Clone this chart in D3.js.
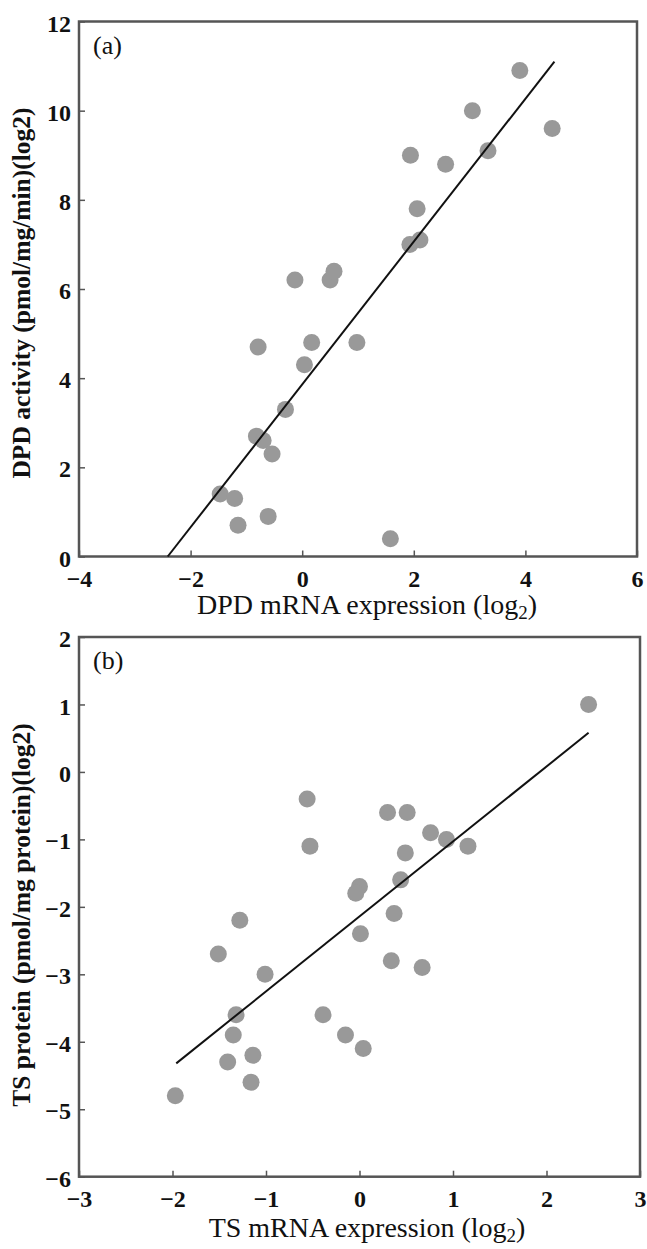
<!DOCTYPE html>
<html>
<head>
<meta charset="utf-8">
<script src="https://cdn.jsdelivr.net/npm/d3@7"></script>
<style>
  body { margin: 0; background: #fff; }
  svg { display: block; }
  text { font-family: "Liberation Serif", "Times New Roman", serif; fill: #111; }
</style>
</head>
<body>
<svg id="chart" width="647" height="1249"></svg>
<script>
// panel (a) : DPD
const dpdMrna     = [3.90, 3.05, 4.48, 1.94, 2.57, 3.33, 2.06, 1.93, 2.11, -0.13, 0.50, 0.57,
                     -0.79, 0.17, 0.98, 0.04, -0.30, -0.82, -0.70, -0.54, -1.47, -1.21, -0.61, -1.15, 1.58];
const dpdActivity = [10.9, 10.0, 9.6, 9.0, 8.8, 9.1, 7.8, 7.0, 7.1, 6.2, 6.2, 6.4,
                     4.7, 4.8, 4.8, 4.3, 3.3, 2.7, 2.6, 2.3, 1.4, 1.3, 0.9, 0.7, 0.4];
const dpdFitX = [-2.41, 4.52];
const dpdFitY = [0, 11.1];
const dpdXTicks = [-4, -2, 0, 2, 4, 6];
const dpdYTicks = [0, 2, 4, 6, 8, 10, 12];

// panel (b) : TS
const tsMrna    = [2.45, -0.56, -0.53, 0.30, 0.51, 0.76, 0.93, 1.16, 0.49, 0.44, 0.00, -0.04,
                   0.37, -1.28, 0.01, -1.51, 0.34, 0.67, -1.01, -1.32, -0.39, -1.35, -0.15, 0.04,
                   -1.14, -1.41, -1.16, -1.97];
const tsProtein = [1.0, -0.4, -1.1, -0.6, -0.6, -0.9, -1.0, -1.1, -1.2, -1.6, -1.7, -1.8,
                   -2.1, -2.2, -2.4, -2.7, -2.8, -2.9, -3.0, -3.6, -3.6, -3.9, -3.9, -4.1,
                   -4.2, -4.3, -4.6, -4.8];
const tsFitX = [-1.96, 2.45];
const tsFitY = [-4.32, 0.58];
const tsXTicks = [-3, -2, -1, 0, 1, 2, 3];
const tsYTicks = [-6, -5, -4, -3, -2, -1, 0, 1, 2];

const point_color = '#999';
const frame_color = '#555';
const fmt = d => d < 0 ? '\u2212' + Math.abs(d) : String(d);

const svg = d3.select('#chart');

const panels = [
  {
    tag: '(a)', xs: dpdMrna, ys: dpdActivity, fitX: dpdFitX, fitY: dpdFitY,
    xTicks: dpdXTicks, yTicks: dpdYTicks,
    left: 79, right: 637, top: 21.5, bottom: 556.5,
    xLabel: 'DPD mRNA expression (log', yLabel: 'DPD activity (pmol/mg/min)(log2)',
    xLabelY: 614, yLabelMid: 293
  },
  {
    tag: '(b)', xs: tsMrna, ys: tsProtein, fitX: tsFitX, fitY: tsFitY,
    xTicks: tsXTicks, yTicks: tsYTicks,
    left: 79, right: 640, top: 637, bottom: 1176.7,
    xLabel: 'TS mRNA expression (log', yLabel: 'TS protein (pmol/mg protein)(log2)',
    xLabelY: 1237, yLabelMid: 915
  }
];

panels.forEach(p => {
  const x = d3.scaleLinear()
    .domain(d3.extent(p.xTicks))
    .range([p.left, p.right]);
  const y = d3.scaleLinear()
    .domain(d3.extent(p.yTicks))
    .range([p.bottom, p.top]);

  const g = svg.append('g');

  // inward ticks, bottom + left only
  const xAxis = g.append('g')
    .attr('transform', `translate(0,${p.bottom})`)
    .call(d3.axisBottom(x).tickValues(p.xTicks).tickSize(-6).tickFormat(fmt));
  const yAxis = g.append('g')
    .attr('transform', `translate(${p.left},0)`)
    .call(d3.axisLeft(y).tickValues(p.yTicks).tickSize(-6).tickFormat(fmt));

  [xAxis, yAxis].forEach(a => {
    a.select('.domain').remove();
    a.selectAll('line').attr('stroke', frame_color).attr('stroke-width', 1.5);
    a.selectAll('text')
      .style('font-family', '"Liberation Serif", "Times New Roman", serif')
      .style('font-size', '24px')
      .style('font-weight', 'bold')
      .attr('fill', '#111');
  });
  xAxis.selectAll('text').attr('y', 30).attr('dy', null);
  yAxis.selectAll('text').attr('x', -8).attr('dy', '0.4em');

  // frame
  g.append('rect')
    .attr('x', p.left)
    .attr('y', p.top)
    .attr('width', p.right - p.left)
    .attr('height', p.bottom - p.top)
    .attr('fill', 'none')
    .attr('stroke', frame_color)
    .attr('stroke-width', 2.5);

  // points
  g.selectAll('circle')
    .data(d3.zip(p.xs, p.ys))
    .join('circle')
    .attr('cx', d => x(d[0]))
    .attr('cy', d => y(d[1]))
    .attr('r', 8.5)
    .attr('fill', point_color);

  // regression line
  g.append('line')
    .attr('x1', x(p.fitX[0])).attr('y1', y(p.fitY[0]))
    .attr('x2', x(p.fitX[1])).attr('y2', y(p.fitY[1]))
    .attr('stroke', '#111')
    .attr('stroke-width', 2);

  // panel tag
  g.append('text')
    .attr('x', p.left + 14)
    .attr('y', p.top + 32)
    .style('font-size', '26px')
    .text(p.tag);

  // x label with subscript 2
  const xl = g.append('text')
    .attr('x', 367)
    .attr('y', p.xLabelY)
    .attr('text-anchor', 'middle')
    .style('font-size', '28px');
  xl.append('tspan').text(p.xLabel);
  xl.append('tspan').attr('dy', 5).style('font-size', '19px').text('2');
  xl.append('tspan').attr('dy', -5).text(')');

  // y label
  g.append('text')
    .attr('transform', `translate(30,${p.yLabelMid}) rotate(-90)`)
    .attr('text-anchor', 'middle')
    .style('font-size', '25.5px')
    .style('font-weight', 'bold')
    .text(p.yLabel);
});
</script>
</body>
</html>
